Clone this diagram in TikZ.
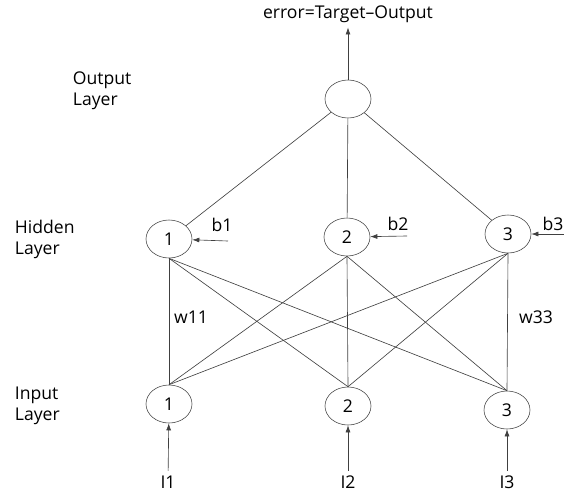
\documentclass[tikz,border=0pt]{standalone}
\usepackage{fontspec}
\setmainfont{Open Sans}
\usetikzlibrary{arrows.meta,shapes.geometric}

\begin{document}
\begin{tikzpicture}[x=0.025cm, y=-0.025cm,
  neuron/.style={draw=black!75, ellipse, minimum width=1.15cm, minimum height=0.95cm, inner sep=0pt},
  link/.style={draw=black!75, line width=0.45pt},
  arr/.style={link, -{Latex[length=5pt,width=3.5pt]}},
  every node/.style={font=\fontsize{12.5}{15}\selectfont}]
\useasboundingbox (0,0) rectangle (564,493);

% Layer names
\node[anchor=west, align=left] (outlabel) at (68,91) {Output\\Layer};
\node[anchor=west, align=left] (hidlabel) at (10,239) {Hidden\\Layer};
\node[anchor=west, align=left] (inlabel) at (10,406) {Input\\Layer};

% Output neuron and error
\node[neuron] (out) at (348,99) {};
\node (err) at (348,14) {error=Target--Output};
\draw[arr] (out) -- (err);

% Hidden neurons
\node[neuron] (h1) at (169,239) {1};
\node[neuron] (h2) at (347,237) {2};
\node[neuron] (h3) at (508,234) {3};

% Input neurons
\node[neuron] (in1) at (169,404) {1};
\node[neuron] (in2) at (348,406) {2};
\node[neuron] (in3) at (507,410) {3};

% Hidden to output
\foreach \i in {1,2,3}
  \draw[link] (h\i) -- (out);

% Input to hidden
\foreach \i in {1,2,3}
  \foreach \j in {1,2,3}
    \draw[link] (h\i.south) -- (in\j.north);

% Weights
\node (w11) at (191,317) {w11};
\node (w33) at (536,317) {w33};

% Biases
\coordinate (b1c) at (228,241);
\coordinate (b2c) at (407,236);
\coordinate (b3c) at (566,234);
\node (b1) at (222,225) {b1};
\node (b2) at (398,224) {b2};
\node (b3) at (553,224) {b3};
\foreach \i in {1,2,3}
  \draw[arr] (b\i c) -- (h\i);

% Inputs
\node (I1) at (168,482) {I1};
\node (I2) at (348,482) {I2};
\node (I3) at (507,482) {I3};
\foreach \i in {1,2,3}
  \draw[arr] (I\i) -- (in\i);
\end{tikzpicture}
\end{document}
